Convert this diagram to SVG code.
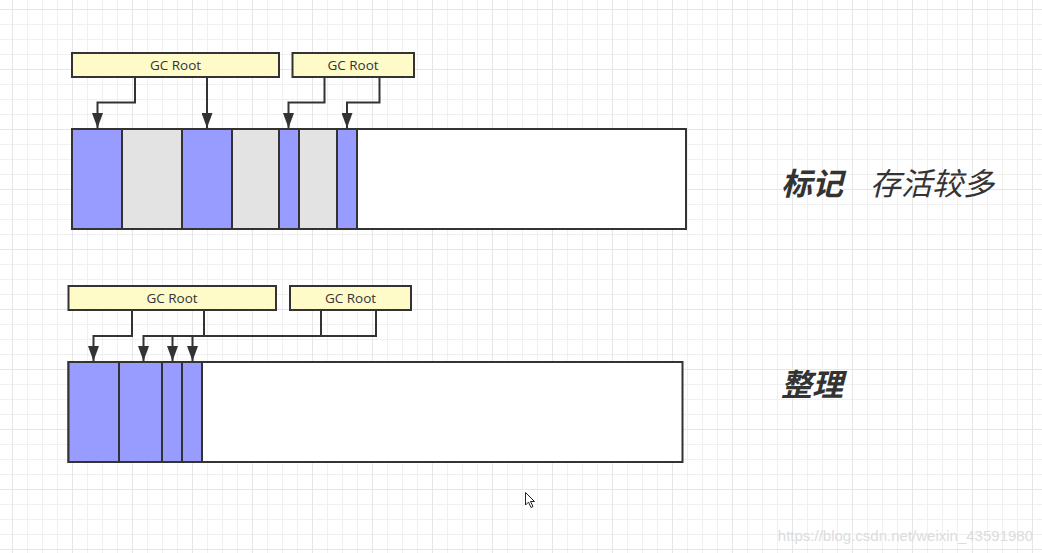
<svg xmlns="http://www.w3.org/2000/svg" width="1042" height="553" viewBox="0 0 1042 553">
<defs>
<pattern id="minor" x="12" y="9" width="15" height="15" patternUnits="userSpaceOnUse">
<path d="M0 0.5 H15 M0.5 0 V15" fill="none" stroke="#f0f0f0" stroke-width="1"/>
</pattern>
<pattern id="major" x="12" y="9" width="60" height="60" patternUnits="userSpaceOnUse">
<path d="M0 0.5 H60 M0.5 0 V60" fill="none" stroke="#e6e6e6" stroke-width="1"/>
</pattern>
<marker id="arr" viewBox="0 0 15 11" refX="15" refY="5.5" markerWidth="15" markerHeight="11" markerUnits="userSpaceOnUse" orient="auto">
<path d="M0 0 L15 5.5 L0 11 Z" fill="#333"/>
</marker>
</defs>
<style>
.root{fill:#fffbc8;stroke:#333;stroke-width:2}
.rl{font-family:"Open Sans","Liberation Sans",Arial,sans-serif;font-size:13.5px;fill:#333;text-anchor:middle}
.blue{fill:#999cff;stroke:#333;stroke-width:2}
.gray{fill:#e3e3e3;stroke:#333;stroke-width:2}
.mem{fill:#fff;stroke:#333;stroke-width:2}
.conn path{fill:none;stroke:#333;stroke-width:2;marker-end:url(#arr)}
.big{font-family:"Noto Sans CJK SC","Noto Sans CJK JP",sans-serif;font-size:31px;fill:#333;font-style:italic}
</style>
<rect width="1042" height="553" fill="#fff"/>
<rect width="1042" height="553" fill="url(#minor)"/>
<rect width="1042" height="553" fill="url(#major)"/>

<g id="mark-memory">
<rect class="mem" x="72" y="129" width="614" height="100"/>
<rect class="blue" x="72" y="129" width="50" height="100"/>
<rect class="gray" x="122" y="129" width="60" height="100"/>
<rect class="blue" x="182" y="129" width="50" height="100"/>
<rect class="gray" x="232" y="129" width="47" height="100"/>
<rect class="blue" x="279" y="129" width="20" height="100"/>
<rect class="gray" x="299" y="129" width="38" height="100"/>
<rect class="blue" x="337" y="129" width="20" height="100"/>
</g>

<g id="mark-root1">
<rect class="root" x="72" y="53" width="207" height="24"/>
<text class="rl" x="175.5" y="70">GC Root</text>
</g>
<g id="mark-root2">
<rect class="root" x="292.5" y="53" width="121.5" height="24"/>
<text class="rl" x="353" y="70">GC Root</text>
</g>

<g id="compact-memory">
<rect class="mem" x="68.5" y="362" width="614" height="100"/>
<rect class="blue" x="68.5" y="362" width="50.5" height="100"/>
<rect class="blue" x="119" y="362" width="43" height="100"/>
<rect class="blue" x="162" y="362" width="20" height="100"/>
<rect class="blue" x="182" y="362" width="20" height="100"/>
</g>

<g id="compact-root1">
<rect class="root" x="68.5" y="286" width="207.5" height="24"/>
<text class="rl" x="172" y="303">GC Root</text>
</g>
<g id="compact-root2">
<rect class="root" x="290" y="286" width="121" height="24"/>
<text class="rl" x="350.5" y="303">GC Root</text>
</g>

<g id="connectors" class="conn">
<path d="M135 77 V102.5 H97.5 V128"/>
<path d="M207 77 V128"/>
<path d="M324.5 77 V102.5 H288.5 V128"/>
<path d="M379.5 77 V102.5 H347 V128"/>
<path d="M132 310 V336 H93.5 V361"/>
<path d="M204 310 V336 H143.5 V361"/>
<path d="M321 310 V336 H172.5 V361"/>
<path d="M376 310 V336 H192.5 V361"/>
</g>

<g id="labels">
<text class="big" x="781" y="195" font-weight="bold">标记</text>
<text class="big" x="870" y="195">存活较多</text>
<text class="big" x="781" y="396" font-weight="bold">整理</text>
</g>

<g id="cursor">
<path d="M525.5 492.5 V505 L528.5 502 L531 507.5 L533 506.5 L530.5 501.5 L534.5 501.5 Z" fill="#fff" stroke="#222" stroke-width="1"/>
</g>

<text x="1033" y="541" font-family="Liberation Sans,Arial,sans-serif" font-size="15" fill="#dcdcdc" text-anchor="end">https://blog.csdn.net/weixin_43591980</text>
</svg>
